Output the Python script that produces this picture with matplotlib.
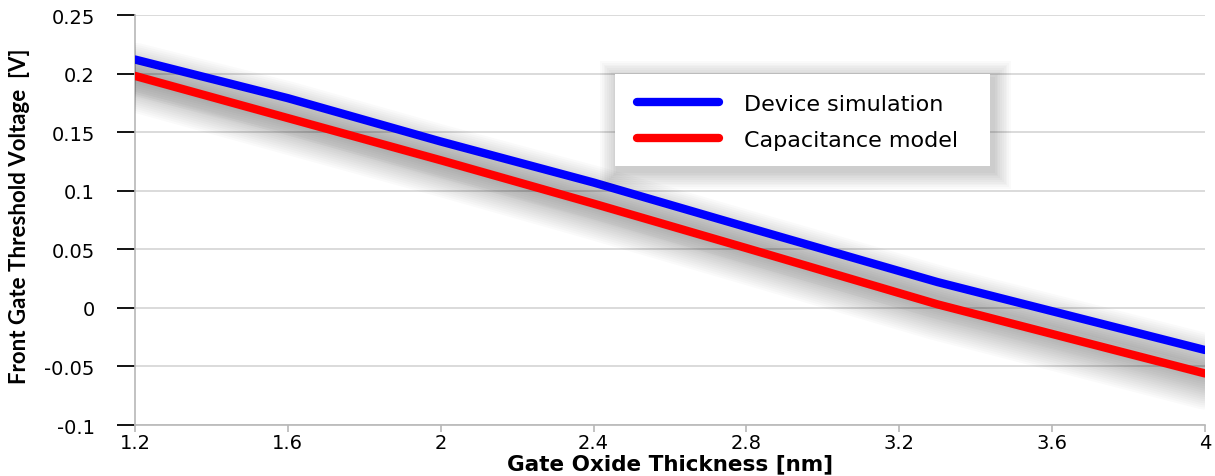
import matplotlib.pyplot as plt
import matplotlib.patheffects as pe
from matplotlib.patches import FancyBboxPatch

# gate oxide thickness [nm]
thickness = [1.2, 1.6, 2.0, 2.4, 2.8, 3.3, 4.0]
# front gate threshold voltage [V]
device_sim = [0.212, 0.179, 0.142, 0.107, 0.069, 0.022, -0.036]
cap_model = [0.198, 0.162, 0.126, 0.089, 0.051, 0.003, -0.056]

x_ticks = [1.2, 1.6, 2.0, 2.4, 2.8, 3.2, 3.6, 4.0]
x_ticklabels = ["1.2", "1.6", "2", "2.4", "2.8", "3.2", "3.6", "4"]
y_ticks = [-0.1, -0.05, 0, 0.05, 0.1, 0.15, 0.2, 0.25]
y_ticklabels = ["-0.1", "-0.05", "0", "0.05", "0.1", "0.15", "0.2", "0.25"]


def shadow_effects():
    effects = []
    for w in range(38, 6, -3):
        effects.append(pe.SimpleLineShadow(offset=(0, -7), shadow_color="black",
                                           alpha=0.02, linewidth=w))
    effects.append(pe.Normal())
    return effects


W, H = 1215, 477
fig = plt.figure(figsize=(W / 100, H / 100), dpi=100)
ax = fig.add_axes([135 / W, 1 - 426 / H, 1070 / W, 410 / H])

ax.plot(thickness, device_sim, color="#0000ff", lw=6, solid_capstyle="round",
        label="Device simulation", path_effects=shadow_effects(), zorder=3)
ax.plot(thickness, cap_model, color="#ff0000", lw=6, solid_capstyle="round",
        label="Capacitance model", path_effects=shadow_effects(), zorder=3)

ax.set_xlim(1.2, 4.0)
ax.set_ylim(-0.1, 0.25)
ax.set_xticks(x_ticks)
ax.set_xticklabels(x_ticklabels)
ax.set_yticks(y_ticks)
ax.set_yticklabels(y_ticklabels)

ax.yaxis.grid(True, color="#d4d4d4", lw=1.2)
ax.set_axisbelow(True)
for s in ["top", "right"]:
    ax.spines[s].set_visible(False)
ax.spines["left"].set_color("#b8b8b8")
ax.spines["bottom"].set_color("#b8b8b8")
ax.spines["left"].set_linewidth(1.2)
ax.spines["bottom"].set_linewidth(1.2)

ax.tick_params(axis="y", length=13, width=1.3, color="black", pad=16,
               labelsize=14)
ax.tick_params(axis="x", length=5, width=1.2, color="#b8b8b8", pad=1,
               labelsize=14)
for lab in ax.get_xticklabels() + ax.get_yticklabels():
    lab.set_family(["DejaVu Sans"])

ax.set_xlabel("Gate Oxide Thickness [nm]", labelpad=1,
              family=["DejaVu Sans"], weight="bold", size=15.5)
fig.text(20 / W, 1 - 216 / H, "Front Gate Threshold Voltage  [V]",
         rotation=90, ha="center", va="center",
         family=["Lato", "DejaVu Sans"], weight="bold", size=16)

# legend box with soft shadow
bx0, bx1, by0, by1 = 615, 990, 75, 167
for k in range(10, 0, -1):
    p = k * 1.8
    fig.add_artist(FancyBboxPatch(((bx0 - p + 3) / W, 1 - (by1 + p + 5) / H),
                                  (bx1 - bx0 + 2 * p) / W, (by1 - by0 + 2 * p) / H,
                                  boxstyle="square,pad=0", transform=fig.transFigure,
                                  facecolor="black", edgecolor="none",
                                  alpha=0.018, zorder=4))
fig.add_artist(FancyBboxPatch((bx0 / W, 1 - by1 / H), (bx1 - bx0) / W,
                              (by1 - by0) / H, boxstyle="square,pad=0",
                              transform=fig.transFigure, facecolor="white",
                              edgecolor="none", zorder=4.5))

leg = fig.legend(loc="upper left", bbox_to_anchor=(637 / W, 1 - 95 / H),
                 borderaxespad=0, borderpad=0, frameon=False,
                 handlelength=3.7, handletextpad=1.1, labelspacing=0.72,
                 prop={"family": "DejaVu Sans", "size": 16})
for line in leg.get_lines():
    line.set_linewidth(6)
    line.set_solid_capstyle("round")
    line.set_path_effects([])
leg.set_zorder(5)

fig.savefig("out.png", dpi=100)
